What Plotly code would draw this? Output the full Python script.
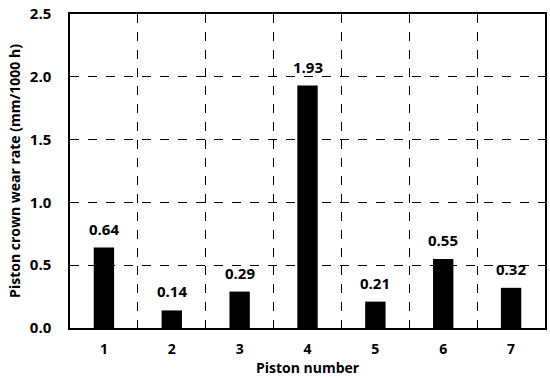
import plotly.graph_objects as go

pistons = [1, 2, 3, 4, 5, 6, 7]
wear_rate = [0.64, 0.14, 0.29, 1.93, 0.21, 0.55, 0.32]
labels = ["0.64", "0.14", "0.29", "1.93", "0.21", "0.55", "0.32"]
y_ticks = [0.0, 0.5, 1.0, 1.5, 2.0, 2.5]

FONT = "Open Sans"

fig = go.Figure()
fig.add_trace(go.Bar(
    x=pistons, y=wear_rate, width=0.3,
    marker=dict(color="black", line=dict(width=0)),
    showlegend=False,
))
for xv, yv, t in zip(pistons, wear_rate, labels):
    fig.add_annotation(x=xv, y=yv, text="<b>%s</b>" % t, showarrow=False,
                       yanchor="middle", yshift=19,
                       font=dict(family=FONT, size=15, color="black"))

fig.update_layout(
    width=550, height=377,
    margin=dict(l=70, r=3, t=11, b=49),
    plot_bgcolor="white", paper_bgcolor="white",
    font=dict(family=FONT, size=15, color="black"),
    xaxis=dict(
        range=[0.5, 7.5], tickvals=pistons,
        ticktext=["<b>%d</b>" % p for p in pistons],
        tickfont=dict(family=FONT, size=14),
        showgrid=False, zeroline=False,
        showline=True, linecolor="black", linewidth=1.5, mirror=True,
        ticks="", ticklabelstandoff=7,
        minor=dict(tick0=0.5, dtick=1, showgrid=True, griddash="dash",
                   gridcolor="black", gridwidth=1, ticks=""),
        title=dict(text="<b>Piston number</b>", standoff=4,
                   font=dict(family=FONT, size=14)),
    ),
    yaxis=dict(
        range=[0, 2.5], tickvals=y_ticks,
        ticktext=["<b>%.1f</b>" % v for v in y_ticks],
        showgrid=True, griddash="dash", gridcolor="black", gridwidth=1,
        zeroline=False,
        showline=True, linecolor="black", linewidth=1.5, mirror=True,
        ticks="", ticklabelstandoff=14,
        title=dict(text="<b>Piston crown wear rate (mm/1000 h)</b>", standoff=6,
                   font=dict(family=FONT, size=14)),
    ),
)

fig.write_html("out.html", config={"displayModeBar": False},
               post_script="document.body.style.margin='0px';")
